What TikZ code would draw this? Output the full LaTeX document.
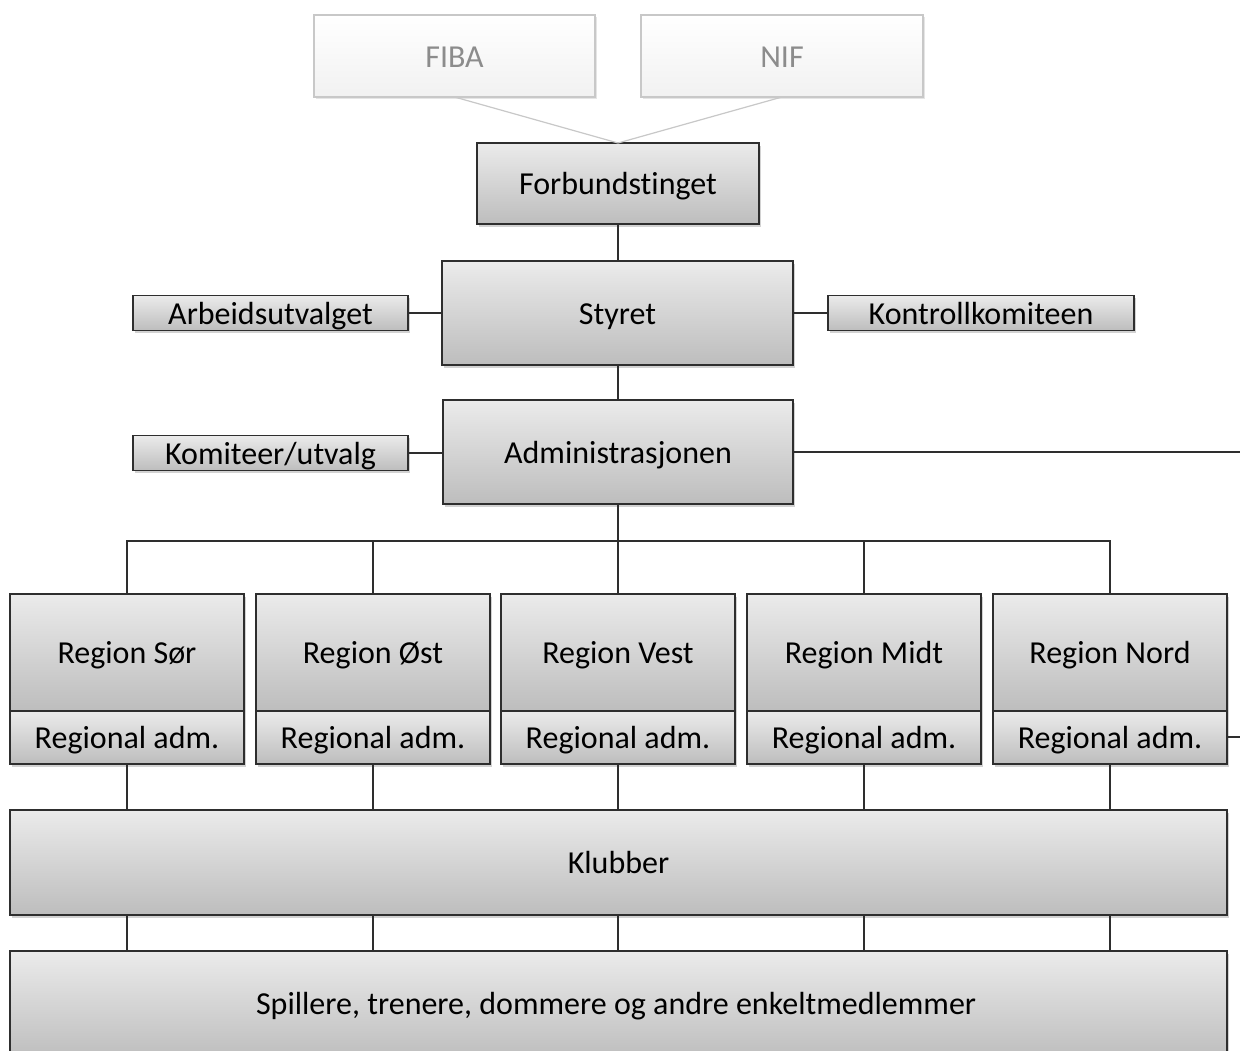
\documentclass[tikz,border=0pt]{standalone}
\usepackage{fontspec}
\setmainfont{Carlito}[Ligatures=NoCommon]
\usetikzlibrary{shadows}
\definecolor{boxtop}{HTML}{EBEBEB}
\definecolor{boxbot}{HTML}{BDBDBD}
\definecolor{linec}{HTML}{2E2E2E}
\definecolor{ghostline}{HTML}{C8C8C8}
\definecolor{ghosttext}{HTML}{8C8C8C}
\begin{document}
\begin{tikzpicture}[x=1pt,y=-1pt,
  txt/.style={font=\fontsize{32}{38}\selectfont, text height=23pt, text depth=1pt},
  box/.style={txt, draw=linec, line width=1.4pt, top color=boxtop, bottom color=boxbot,
    inner sep=0pt, outer sep=0pt, text=black,
    drop shadow={shadow xshift=2pt, shadow yshift=-2.5pt, opacity=0.35}},
  ghost/.style={txt, draw=ghostline, line width=1.2pt, top color=white, bottom color=boxtop!70,
    inner sep=0pt, outer sep=0pt, text=ghosttext,
    drop shadow={shadow xshift=1.5pt, shadow yshift=-2pt, opacity=0.2}},
  conn/.style={draw=linec, line width=1.4pt},
  ghostconn/.style={draw=ghostline, line width=1.2pt}]
\useasboundingbox (0,0) rectangle (1240,1050);
\fill[white] (0,0) rectangle (1240,1050);

% top ghost boxes
\node[ghost, minimum width=281pt, minimum height=82pt] (fiba) at (454.5,56) {FIBA};
\node[ghost, minimum width=282pt, minimum height=82pt] (nif) at (782,56) {NIF};

\node[box, minimum width=282pt, minimum height=81pt] (forb) at (618,183.5) {Forbundstinget};
\draw[ghostconn] (fiba.south) -- (forb.north);
\draw[ghostconn] (nif.south) -- (forb.north);

\node[box, minimum width=351pt, minimum height=104pt] (styret) at (617.5,313) {Styret};
\node[box, minimum width=275pt, minimum height=35pt] (arb) at (270.5,313) {Arbeidsutvalget};
\node[box, minimum width=306pt, minimum height=35pt] (kontroll) at (981,313) {Kontrollkomiteen};

\node[box, minimum width=350pt, minimum height=104pt] (admin) at (618,452) {Administrasjonen};
\node[box, minimum width=275pt, minimum height=35pt] (komit) at (270.5,453) {Komiteer/utvalg};

\draw[conn] (forb.south) -- (forb.south |- styret.north);
\draw[conn] (arb.east) -- (arb.east -| styret.west);
\draw[conn] (kontroll.west) -- (kontroll.west -| styret.east);
\draw[conn] (styret.south -| admin.north) -- (admin.north);
\draw[conn] (komit.east) -- (komit.east -| admin.west);
\coordinate (edgeA) at (1240,453);
\draw[conn] (admin.east) -- (admin.east -| edgeA);

% regions
\foreach \n/\x/\t in {r1/127/Region Sør, r2/373/Region Øst, r3/618/Region Vest, r4/864/Region Midt, r5/1110/Region Nord}{
  \node[box, minimum width=234pt, minimum height=117pt] (\n) at (\x,652.5) {\t};
  \node[box, minimum width=234pt, minimum height=53pt] (\n a) at (\x,737.5) {Regional adm.};
}

\coordinate (bus) at (618,541);
\draw[conn] (r1.north) |- (bus) -| (r5.north);
\draw[conn] (r2.north) -- (r2.north |- bus);
\draw[conn] (r4.north) -- (r4.north |- bus);
\draw[conn] (admin.south) -- (admin.south |- r3.north);
\coordinate (edgeB) at (1240,737);
\draw[conn] (r5a.east |- edgeB) -- (edgeB);

\node[box, minimum width=1217pt, minimum height=105pt] (klubber) at (618.5,862.5) {Klubber};
\node[box, minimum width=1217pt, minimum height=109pt, anchor=north] (spillere) at (618.5,951) {};
\node[txt, inner sep=0pt] (spt) at (616,1003) {Spillere, trenere, dommere og andre enkeltmedlemmer};

\foreach \n in {r1,r2,r3,r4,r5}{
  \draw[conn] (\n a.south) -- (\n a.south |- klubber.north);
  \draw[conn] (klubber.south -| \n a.south) -- (spillere.north -| \n a.south);
}
\end{tikzpicture}
\end{document}
